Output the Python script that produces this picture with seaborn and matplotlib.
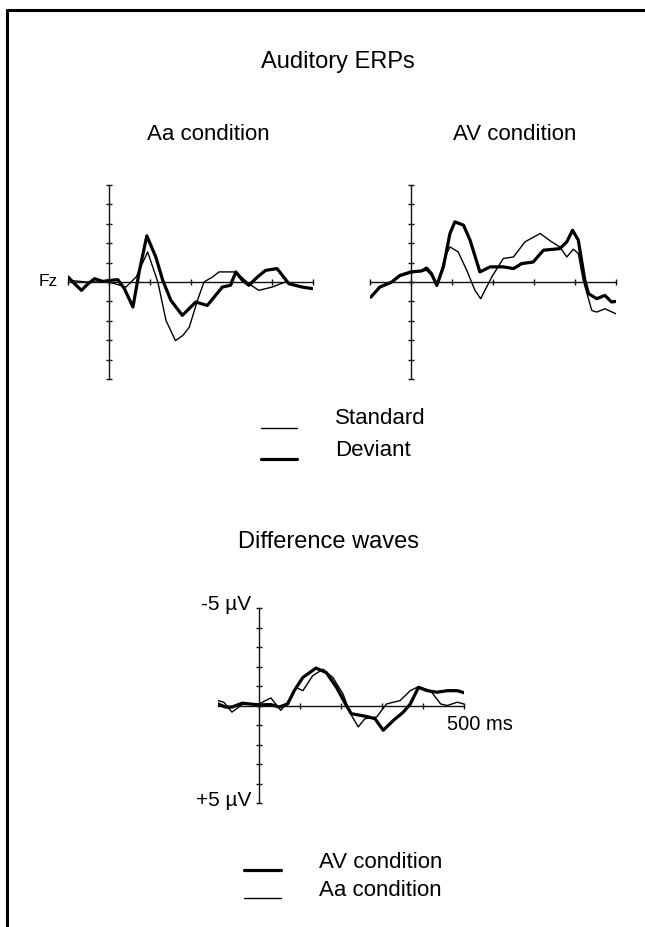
import numpy as np
import pandas as pd
import matplotlib.pyplot as plt
import seaborn as sns
from matplotlib.lines import Line2D

# time (ms) / amplitude (uV, negative plotted upward)
aa_dev_t = [-100, -84, -67, -51, -35, -15, 6, 22, 38, 59, 75, 93, 115, 132, 152, 180, 213, 241,
            278, 298, 311, 327, 343, 364, 384, 412, 441, 473, 498]
aa_dev_v = [-0.26, 0.09, 0.43, 0.09, -0.17, -0.03, -0.09, -0.12, 0.34, 1.29, -0.6, -2.38, -1.29,
            -0.09, 0.95, 1.72, 1.03, 1.21, 0.26, 0.17, -0.52, -0.09, 0.17, -0.26, -0.6, -0.69,
            0.09, 0.26, 0.34]
aa_std_t = [-100, -55, 0, 42, 67, 95, 120, 140, 163, 181, 197, 217, 233, 254, 270, 311, 343, 367,
            400, 432, 457, 498]
aa_std_v = [-0.09, 0, 0, 0.26, -0.26, -1.55, 0, 1.98, 3.02, 2.76, 2.33, 0.95, 0, -0.26, -0.52,
            -0.52, 0.09, 0.43, 0.26, 0, 0.17, 0.34]

av_dev_t = [-98, -76, -47, -27, 0, 26, 38, 50, 63, 79, 95, 107, 128, 144, 168, 193, 225, 250, 270,
            298, 323, 363, 380, 394, 408, 424, 433, 453, 473, 489, 500]
av_dev_v = [0.78, 0.26, 0, -0.34, -0.52, -0.57, -0.72, -0.43, 0.17, -0.78, -2.5, -3.1, -2.93,
            -2.16, -0.52, -0.78, -0.78, -0.69, -0.95, -1.03, -1.64, -1.72, -2.07, -2.67, -2.16,
            -0.09, 0.6, 0.86, 0.69, 1.03, 1.0]
av_std_t = [-98, -76, -47, -27, 0, 38, 50, 63, 83, 95, 115, 136, 156, 170, 197, 225, 250, 278, 315,
            343, 363, 380, 396, 408, 420, 441, 453, 473, 500]
av_std_v = [0.78, 0.29, 0.03, -0.29, -0.47, -0.6, -0.34, 0.22, -1.29, -1.81, -1.55, -0.6, 0.43,
            0.86, -0.26, -1.21, -1.29, -2.07, -2.5, -2.07, -1.81, -1.29, -1.69, -1.47, -0.09,
            1.47, 1.55, 1.38, 1.64]

diff_av_t = [-100, -82, -66, -41, 0, 29, 49, 70, 86, 107, 139, 164, 189, 213, 225, 262, 283, 303,
             328, 352, 369, 389, 410, 434, 459, 484, 504]
diff_av_v = [-0.08, 0.08, 0.08, -0.12, -0.03, -0.05, 0.08, -0.08, -0.76, -1.44, -1.92, -1.69,
             -0.93, 0, 0.42, 0.56, 0.68, 1.27, 0.76, 0.34, -0.08, -0.93, -0.76, -0.68, -0.76,
             -0.76, -0.63]
diff_aa_t = [-100, -86, -66, -41, 0, 29, 53, 70, 90, 107, 131, 156, 180, 205, 221, 242, 258, 287,
             311, 344, 369, 389, 418, 443, 459, 484, 504]
diff_aa_v = [-0.25, -0.17, 0.34, -0.05, -0.08, -0.39, 0.25, -0.17, -0.93, -0.76, -1.53, -1.86,
             -1.44, -0.59, 0.34, 1.1, 0.68, 0.59, -0.08, -0.25, -0.76, -0.97, -0.76, -0.08, 0,
             -0.17, -0.05]

sns.set_style("white")
plt.rcParams['font.family'] = ['Liberation Sans', 'DejaVu Sans']
plt.rcParams['text.color'] = 'black'

W, H = 645, 927
fig = plt.figure(figsize=(W / 100, H / 100), dpi=100)


def box(x0, y0, x1, y1):
    return [x0 / W, 1 - y1 / H, (x1 - x0) / W, (y1 - y0) / H]


def fx(x):
    return x / W


def fy(y):
    return 1 - y / H


def erp_axes(rect, xticks):
    ax = fig.add_axes(rect)
    ax.set_xlim(-100, 500)
    ax.set_ylim(5, -5)  # negative up
    for s in ['top', 'right']:
        ax.spines[s].set_visible(False)
    ax.spines['left'].set_position(('data', 0))
    ax.spines['bottom'].set_position(('data', 0))
    for s in ['left', 'bottom']:
        ax.spines[s].set_linewidth(1.0)
        ax.spines[s].set_color('#111111')
    ax.set_xticks(xticks)
    ax.set_yticks(np.arange(-5, 6, 1))
    ax.set_xticklabels([])
    ax.set_yticklabels([])
    ax.tick_params(bottom=True, left=True, direction='inout', length=5, width=1.0,
                   color='#111111')
    ax.patch.set_alpha(0)
    return ax


def draw(ax, t, v, lw):
    df = pd.DataFrame({'t': t, 'v': v})
    sns.lineplot(data=df, x='t', y='v', ax=ax, color='black', linewidth=lw,
                 sort=False, estimator=None)
    ax.set_xlabel('')
    ax.set_ylabel('')


THIN, THICK = 1.0, 2.3

ax1 = erp_axes(box(68, 185, 313, 379), np.arange(-100, 501, 100))
draw(ax1, aa_std_t, aa_std_v, THIN)
draw(ax1, aa_dev_t, aa_dev_v, THICK)

ax2 = erp_axes(box(370, 185, 616, 379), np.arange(-100, 501, 100))
draw(ax2, av_std_t, av_std_v, THIN)
draw(ax2, av_dev_t, av_dev_v, THICK)

ax3 = erp_axes(box(218, 608, 464, 803), np.arange(0, 501, 100))
draw(ax3, diff_aa_t, diff_aa_v, THIN)
draw(ax3, diff_av_t, diff_av_v, THICK)

# titles / labels
fig.text(fx(338), fy(62), 'Auditory ERPs', ha='center', va='center', fontsize=17)
fig.text(fx(208), fy(135), 'Aa condition', ha='center', va='center', fontsize=16)
fig.text(fx(515), fy(135), 'AV condition', ha='center', va='center', fontsize=16)
fig.text(fx(58), fy(282), 'Fz', ha='right', va='center', fontsize=12.5)
fig.text(fx(328), fy(542), 'Difference waves', ha='center', va='center', fontsize=17)
fig.text(fx(251), fy(605), '-5 µV', ha='right', va='center', fontsize=15)
fig.text(fx(251), fy(800), '+5 µV', ha='right', va='center', fontsize=15)
fig.text(fx(447), fy(725), '500 ms', ha='left', va='center', fontsize=14.5)

# legend keys
legend_top = [('Standard', THIN, 419), ('Deviant', THICK, 450)]
for label, lw, yc in legend_top:
    fig.add_artist(Line2D([fx(261), fx(297)], [fy(yc + 9), fy(yc + 9)], color='black',
                          linewidth=lw, transform=fig.transFigure))
    fig.text(fx(335), fy(yc), label, ha='left', va='center', fontsize=16)

legend_bot = [('AV condition', THICK, 862), ('Aa condition', THIN, 890)]
for label, lw, yc in legend_bot:
    fig.add_artist(Line2D([fx(244), fx(281)], [fy(yc + 8), fy(yc + 8)], color='black',
                          linewidth=lw, transform=fig.transFigure))
    fig.text(fx(319), fy(yc), label, ha='left', va='center', fontsize=16)

# frame: top and left edges only
fig.add_artist(Line2D([fx(7), fx(W)], [fy(10), fy(10)], color='black', linewidth=2.2,
                      transform=fig.transFigure))
fig.add_artist(Line2D([fx(7), fx(7)], [fy(10), fy(H)], color='black', linewidth=2.2,
                      transform=fig.transFigure))

fig.savefig('out.png', dpi=100)
